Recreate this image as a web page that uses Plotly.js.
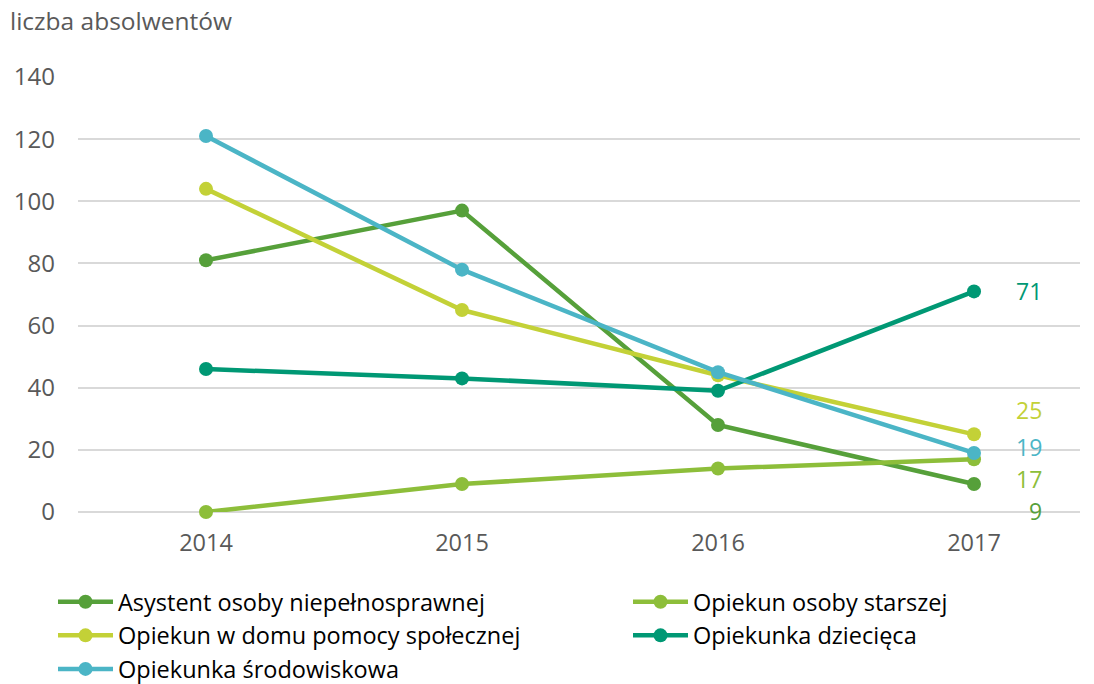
<!DOCTYPE html>
<html>
<head>
<meta charset="utf-8">
<script src="https://cdn.plot.ly/plotly-3.0.1.min.js"></script>
<style>html,body{margin:0;padding:0;background:#fff;}#chart{width:1094px;height:684px;}</style>
</head>
<body>
<div id="chart"></div>
<script>
const years = ['2014', '2015', '2016', '2017'];
const seriesNames = ['Asystent osoby niepełnosprawnej', 'Opiekun osoby starszej', 'Opiekun w domu pomocy społecznej', 'Opiekunka dziecięca', 'Opiekunka środowiskowa'];
const asystent = [81, 97, 28, 9];
const opiekunStarszej = [0, 9, 14, 17];
const opiekunDps = [104, 65, 44, 25];
const opiekunkaDziecieca = [46, 43, 39, 71];
const opiekunkaSrodowiskowa = [121, 78, 45, 19];
const yTicks = [0, 20, 40, 60, 80, 100, 120, 140];

const colors = ['#56A03A', '#8DBE3A', '#C3D137', '#009874', '#4BB5C6'];
const values = [asystent, opiekunStarszej, opiekunDps, opiekunkaDziecieca, opiekunkaSrodowiskowa];
const legendOf = ['legend', 'legend2', 'legend', 'legend2', 'legend'];
const labelShift = [-27, -20, 24, 0, 6];

const FONT = '"Open Sans", "Noto Sans", sans-serif';

const traces = values.map((v, i) => ({
  x: years, y: v, name: seriesNames[i], type: 'scatter', mode: 'lines+markers',
  line: {color: colors[i], width: 4.5},
  marker: {color: colors[i], size: 14},
  cliponaxis: false, legend: legendOf[i]
}));

const last = years.length - 1;
const annotations = values.map((v, i) => ({
  x: last, y: v[last], xref: 'x', yref: 'y',
  text: String(v[last]), showarrow: false,
  xanchor: 'right', yanchor: 'middle', xshift: 70, yshift: labelShift[i],
  font: {family: FONT, size: 23, color: colors[i]}
}));
annotations.push({
  xref: 'paper', yref: 'paper', x: 0, y: 1, xanchor: 'left', yanchor: 'bottom',
  text: 'liczba absolwentów', showarrow: false, xshift: -70, yshift: 38,
  font: {family: FONT, size: 24.5, color: '#595959'}
});

const legendBase = {
  orientation: 'v', xref: 'container', yref: 'container',
  y: 1 - 580 / 684, xanchor: 'left', yanchor: 'top',
  font: {family: FONT, size: 23.5, color: '#000'},
  itemwidth: 55, traceorder: 'normal', bgcolor: 'rgba(0,0,0,0)',
  tracegroupgap: 0
};

const layout = {
  width: 1094, height: 684,
  margin: {l: 78, r: 14, t: 77, b: 172, autoexpand: false},
  paper_bgcolor: '#fff', plot_bgcolor: '#fff',
  font: {family: FONT, color: '#595959'},
  showlegend: true,
  xaxis: {
    type: 'category', range: [-0.5, 3.414], showgrid: false, zeroline: false,
    showline: false, ticks: '', tickfont: {size: 23.5, color: '#595959'},
    ticklabelstandoff: 14, automargin: false
  },
  yaxis: {
    range: [0, 140], tickvals: yTicks, ticktext: yTicks.map(String),
    showgrid: true, gridcolor: '#D9D9D9', gridwidth: 2, zeroline: true,
    zerolinecolor: '#D9D9D9', zerolinewidth: 2, showline: false, ticks: '',
    tickfont: {size: 24, color: '#595959'}, ticklabelstandoff: 22, automargin: false
  },
  legend: Object.assign({}, legendBase, {x: 53 / 1094}),
  legend2: Object.assign({}, legendBase, {x: 628 / 1094}),
  annotations: annotations
};

Plotly.newPlot('chart', traces, layout, {displayModeBar: false, staticPlot: true});
</script>
</body>
</html>
